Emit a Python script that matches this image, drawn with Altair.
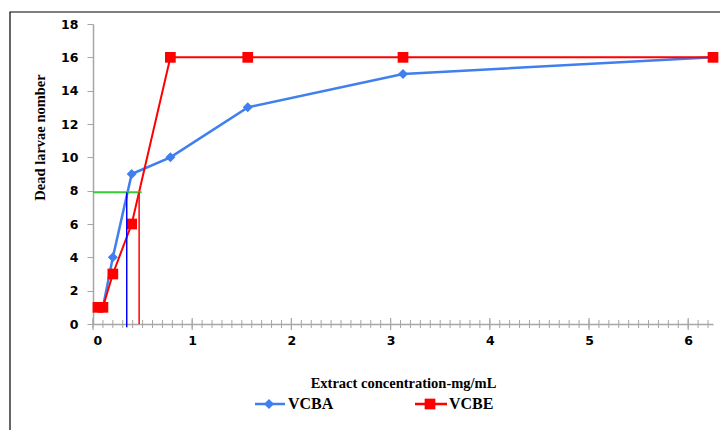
import altair as alt
import pandas as pd

# ---- data ----
conc = [0.05, 0.1, 0.2, 0.39, 0.78, 1.56, 3.125, 6.25]
vcba = [1, 1, 4, 9, 10, 13, 15, 16]
vcbe = [1, 1, 3, 6, 16, 16, 16, 16]
series_names = ["VCBA", "VCBE"]
series_colors = ["#3F7FEF", "#FF0000"]

# LC50-type guide lines
guide_y = 7.9
guide_green_x = [0.0, 0.49]
guide_blue_x = 0.34
guide_red_x = 0.465

x_major = [0, 1, 2, 3, 4, 5, 6]
x_minor = [round(i * 0.1, 1) for i in range(63)]
y_ticks = [0, 2, 4, 6, 8, 10, 12, 14, 16, 18]

W, H = 620, 300
AXIS_GRAY = "#A6A6A6"
SANS = "DejaVu Sans"
SERIF = "Liberation Serif"

xscale = alt.Scale(domain=[0, 6.25], nice=False, zero=True)
yscale = alt.Scale(domain=[0, 18], nice=False)

X = alt.X(
    "x:Q",
    scale=xscale,
    axis=alt.Axis(
        values=x_major, format="d", grid=False, ticks=False, tickSize=0,
        domainColor=AXIS_GRAY, domainWidth=1.5,
        labelFont=SANS, labelFontWeight="bold", labelFontSize=12.5, labelColor="black",
        labelPadding=10,
        title="Extract concentration-mg/mL", titleFont=SERIF, titleFontSize=14.5,
        titleFontWeight="bold", titleColor="black", titlePadding=30,
    ),
)
Y = alt.Y(
    "y:Q",
    scale=yscale,
    axis=alt.Axis(
        values=y_ticks, format="d", grid=False, tickSize=6, tickColor=AXIS_GRAY,
        domainColor=AXIS_GRAY, domainWidth=1.5,
        labelFont=SANS, labelFontWeight="bold", labelFontSize=12.5, labelColor="black",
        labelPadding=9,
        title="Dead larvae nomber", titleFont=SERIF, titleFontSize=14.5,
        titleFontWeight="bold", titleColor="black",
        titleX=-53, titleY=113, titleAngle=270, titleAlign="center", titleBaseline="middle",
    ),
)

df_a = pd.DataFrame({"x": conc, "y": vcba})
df_e = pd.DataFrame({"x": conc, "y": vcbe})

one = pd.DataFrame({"k": [0]})

border = alt.Chart(one).mark_rect(fillOpacity=0, stroke="black", strokeWidth=1.2).encode(
    x=alt.value(-83), x2=alt.value(629), y=alt.value(-12), y2=alt.value(460)
)

minor_ticks = alt.Chart(pd.DataFrame({"x": x_minor})).mark_rule(
    color=AXIS_GRAY, strokeWidth=1
).encode(x=X, y=alt.value(H - 4), y2=alt.value(H + 4))
major_ticks = alt.Chart(pd.DataFrame({"x": x_major})).mark_rule(
    color=AXIS_GRAY, strokeWidth=1.2
).encode(x=X, y=alt.value(H - 6), y2=alt.value(H + 6))

line_a = alt.Chart(df_a).mark_line(color=series_colors[0], strokeWidth=2.5).encode(x=X, y=Y)
pts_a = alt.Chart(df_a).mark_point(
    shape="diamond", filled=True, size=100, color=series_colors[0], opacity=1
).encode(x=X, y=Y)
line_e = alt.Chart(df_e).mark_line(color=series_colors[1], strokeWidth=2).encode(x=X, y=Y)
pts_e = alt.Chart(df_e).mark_point(
    shape="square", filled=True, size=115, color=series_colors[1], opacity=1
).encode(x=X, y=Y)

green = alt.Chart(pd.DataFrame({"x": [guide_green_x[0]], "x2": [guide_green_x[1]], "y": [guide_y]})).mark_rule(
    color="#33CC33", strokeWidth=2
).encode(x=X, x2="x2:Q", y=Y)
vblue = alt.Chart(pd.DataFrame({"x": [guide_blue_x], "y": [guide_y], "y2": [-0.2]})).mark_rule(
    color="#0000FF", strokeWidth=1.5, clip=False
).encode(x=X, y=Y, y2="y2:Q")
vred = alt.Chart(pd.DataFrame({"x": [guide_red_x], "y": [guide_y], "y2": [0]})).mark_rule(
    color="#FF0000", strokeWidth=1.5
).encode(x=X, y=Y, y2="y2:Q")

# manual legend
LY = 380
leg_layers = []
for name, col, shape, size, x0, x1, xm, xt in [
    (series_names[0], series_colors[0], "diamond", 100, 162, 192, 176, 195),
    (series_names[1], series_colors[1], "square", 115, 322, 354, 337, 356),
]:
    d = pd.DataFrame({"name": [name]})
    leg_layers.append(alt.Chart(d).mark_rule(color=col, strokeWidth=2.5).encode(
        x=alt.value(x0), x2=alt.value(x1), y=alt.value(LY)))
    leg_layers.append(alt.Chart(d).mark_point(shape=shape, filled=True, size=size, color=col, opacity=1).encode(
        x=alt.value(xm), y=alt.value(LY)))
    leg_layers.append(alt.Chart(d).mark_text(
        align="left", baseline="middle", font=SERIF, fontSize=16, fontWeight="bold", color="black"
    ).encode(x=alt.value(xt), y=alt.value(LY), text="name:N"))

chart = alt.layer(
    border, minor_ticks, major_ticks, line_a, pts_a, line_e, pts_e, green, vblue, vred, *leg_layers
).properties(
    width=W, height=H,
    autosize=alt.AutoSizeParams(type="none"),
    padding={"left": 85, "top": 16, "right": 7, "bottom": 106},
    background="white",
).configure_view(stroke=None)

chart.save("out.html", embed_options={"renderer": "svg", "actions": False})
